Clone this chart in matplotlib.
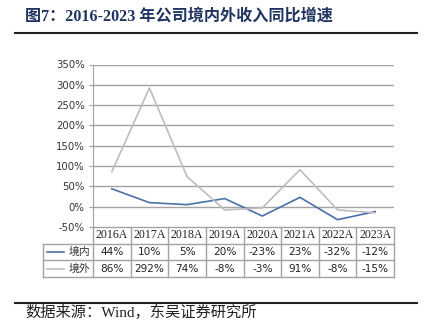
import matplotlib

matplotlib.use("Agg")

import matplotlib.pyplot as plt
import matplotlib.transforms as mtransforms
from matplotlib.lines import Line2D

years = ["2016A", "2017A", "2018A", "2019A", "2020A", "2021A", "2022A", "2023A"]
domestic = [44, 10, 5, 20, -23, 23, -32, -12]
overseas = [86, 292, 74, -8, -3, 91, -8, -15]
series_names = ["境内", "境外"]
yticks = [-50, 0, 50, 100, 150, 200, 250, 300, 350]

BLUE = "#4a70a8"
GREY = "#bdbdbd"
GRID = "#a3a3a3"
CJK = ["Liberation Serif", "Noto Sans CJK SC"]

W, H = 425, 335
fig = plt.figure(figsize=(W / 100, H / 100), dpi=100)

# title + rules
fig.text(25 / W, 1 - 17 / H, "图7：2016-2023 年公司境内外收入同比增速", family=CJK,
         fontsize=11.6, fontweight="bold", color="#1f3460", va="center", ha="left")
fig.add_artist(Line2D([15 / W, 417 / W], [1 - 33 / H] * 2, color="#222222", lw=1.5))
fig.add_artist(Line2D([15 / W, 417 / W], [1 - 303 / H] * 2, color="#222222", lw=1.5))
fig.text(25 / W, 1 - 312 / H, "数据来源：Wind，东吴证券研究所", family=CJK,
         fontsize=11, color="#222222", va="center", ha="left")

left, right, top, bottom = 93, 394, 64.5, 227
ax = fig.add_axes([left / W, 1 - bottom / H, (right - left) / W, (bottom - top) / H])
x = list(range(len(years)))
ax.plot(x, domestic, color=BLUE, lw=1.2)
ax.plot(x, overseas, color=GREY, lw=1.2)
ax.set_xlim(-0.5, len(years) - 0.5)
ax.set_ylim(-50, 350)
ax.set_yticks(yticks)
ax.set_yticklabels([f"{v}%" for v in yticks], fontsize=7.3, color="#333333")
ax.set_xticks([])
for v in yticks[1:]:
    ax.axhline(v, color=GRID, lw=1, zorder=0)
for side in ["top", "right", "bottom"]:
    ax.spines[side].set_visible(False)
ax.spines["left"].set_color(GRID)
ax.tick_params(axis="y", length=3, color=GRID, pad=3)

# data table under the axis
trans = mtransforms.blended_transform_factory(ax.transData, ax.transAxes)
row_h = 16.7 / (bottom - top)
label_left = -0.5 - 50 / ((right - left) / len(years))
tops = [0, -row_h, -2 * row_h, -3 * row_h]
kw = dict(transform=trans, color=GRID, lw=1, clip_on=False)

ax.add_line(Line2D([-0.5, len(years) - 0.5], [tops[0]] * 2, **kw))
for yy in tops[1:]:
    ax.add_line(Line2D([label_left, len(years) - 0.5], [yy] * 2, **kw))
for i in range(len(years) + 1):
    ax.add_line(Line2D([i - 0.5] * 2, [tops[0], tops[3]], **kw))
ax.add_line(Line2D([label_left] * 2, [tops[1], tops[3]], **kw))

for i, yr in enumerate(years):
    ax.text(i, (tops[0] + tops[1]) / 2, yr, transform=trans, ha="center", va="center",
            fontsize=8.6, family="Liberation Serif", color="#222222")
for r, (vals, name, col) in enumerate([(domestic, series_names[0], BLUE),
                                       (overseas, series_names[1], GREY)]):
    yc = (tops[r + 1] + tops[r + 2]) / 2
    for i, v in enumerate(vals):
        ax.text(i, yc, f"{v}%", transform=trans, ha="center", va="center",
                fontsize=7.6, color="#222222")
    ax.add_line(Line2D([label_left + 0.1, label_left + 0.55], [yc] * 2,
                       transform=trans, color=col, lw=1.2, clip_on=False))
    ax.text(-0.58, yc, name, transform=trans, ha="right", va="center",
            fontsize=7.8, family="Noto Sans CJK SC", color="#333333")

fig.savefig("out.png", dpi=100)
